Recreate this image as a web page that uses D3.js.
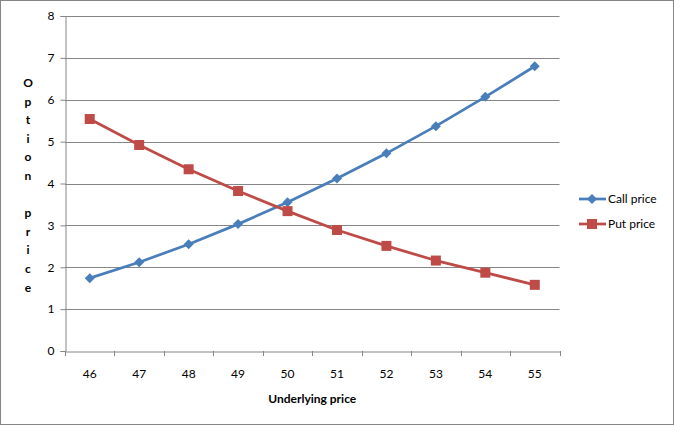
<!DOCTYPE html>
<html><head><meta charset="utf-8">
<script src="https://cdn.jsdelivr.net/npm/d3@7"></script>
<style>body{margin:0;background:#fff}svg{display:block}text{font-family:Lato,"Open Sans",sans-serif}</style>
</head><body><svg id="c" width="674" height="425"></svg>
<script>
const categories = [46,47,48,49,50,51,52,53,54,55];
const callPrice = [1.74,2.12,2.55,3.03,3.55,4.12,4.72,5.37,6.07,6.80];
const putPrice = [5.54,4.92,4.34,3.82,3.34,2.89,2.51,2.16,1.87,1.58];
const yTicks = [0,1,2,3,4,5,6,7,8];
const seriesNames = ["Call price","Put price"];
const yTitle = "Option price";
const xTitle = "Underlying price";

const svg = d3.select("#c");
svg.append("rect").attr("x",0.5).attr("y",0.5).attr("width",673).attr("height",424)
  .attr("fill","#fff").attr("stroke","#868686");

const L=65, R=559.5, T=16, B=351;
const x = d3.scaleBand().domain(categories).range([L,R]);
const y = d3.scaleLinear().domain([0,8]).range([B,T]);

svg.append("g").selectAll("line").data(yTicks.filter(d=>d>0)).join("line")
  .attr("x1",L).attr("x2",R).attr("y1",d=>Math.round(y(d))+0.5).attr("y2",d=>Math.round(y(d))+0.5)
  .attr("stroke","#868686").attr("stroke-width",1);

const ya = svg.append("g").attr("transform",`translate(${L+0.5},0)`)
  .call(d3.axisLeft(y).tickValues(yTicks).tickSize(5).tickPadding(6).tickFormat(d3.format("d")));
ya.select(".domain").attr("stroke","#868686");
ya.selectAll(".tick line").attr("stroke","#868686");
ya.selectAll(".tick text").attr("font-size",12).attr("fill","#000").attr("font-family","Lato,sans-serif");

const xa = svg.append("g").attr("transform",`translate(0,${B+0.5})`)
  .call(d3.axisBottom(x).tickSize(0).tickPadding(18));
xa.select(".domain").attr("stroke","#868686");
xa.selectAll(".tick text").attr("font-size",12).attr("fill","#000").attr("font-family","Lato,sans-serif");
svg.append("g").selectAll("line").data(categories.concat([null])).join("line")
  .attr("x1",(d,i)=> i<categories.length ? Math.round(x(d))+0.5 : Math.round(R)+0.5)
  .attr("x2",(d,i)=> i<categories.length ? Math.round(x(d))+0.5 : Math.round(R)+0.5)
  .attr("y1",B).attr("y2",B+5).attr("stroke","#868686");

svg.append("text").attr("x",(L+R)/2).attr("y",403).attr("text-anchor","middle")
  .attr("font-size",12).attr("font-weight","bold").text(xTitle);
const yt = svg.append("text").attr("font-size",12).attr("font-weight","bold").attr("text-anchor","middle");
Array.from(yTitle).forEach((ch,i)=>{
  yt.append("tspan").attr("x",28).attr("y",87+i*18.6).text(ch===" "?"\u00a0":ch);
});

const line = d3.line().x((d,i)=>x(categories[i])+x.bandwidth()/2).y(d=>y(d));
const colors = ["#4A7EBB","#BE4B48"];
[callPrice, putPrice].forEach((vals,si)=>{
  svg.append("path").datum(vals).attr("d",line).attr("fill","none")
    .attr("stroke",colors[si]).attr("stroke-width",2.75).attr("stroke-linejoin","round");
});
const cx = (i)=>x(categories[i])+x.bandwidth()/2;
const diamond = d3.symbol(d3.symbolSquare,50);
svg.append("g").selectAll("path").data(callPrice).join("path")
  .attr("d",diamond)
  .attr("transform",(d,i)=>`translate(${cx(i)},${y(d)}) rotate(45)`).attr("fill",colors[0]);
svg.append("g").selectAll("rect").data(putPrice).join("rect")
  .attr("x",(d,i)=>cx(i)-5).attr("y",d=>y(d)-5).attr("width",10).attr("height",10)
  .attr("fill",colors[1]);

const lg = svg.append("g");
seriesNames.forEach((n,i)=>{
  const ly = 199 + i*25;
  lg.append("line").attr("x1",579).attr("x2",606).attr("y1",ly).attr("y2",ly)
    .attr("stroke",colors[i]).attr("stroke-width",2.75);
  if(i===0) lg.append("path").attr("d",diamond).attr("transform",`translate(592,${ly}) rotate(45)`).attr("fill",colors[0]);
  else lg.append("rect").attr("x",587).attr("y",ly-5).attr("width",10).attr("height",10).attr("fill",colors[1]);
  lg.append("text").attr("x",608).attr("y",ly+4).attr("font-size",12).text(n);
});
</script></body></html>
